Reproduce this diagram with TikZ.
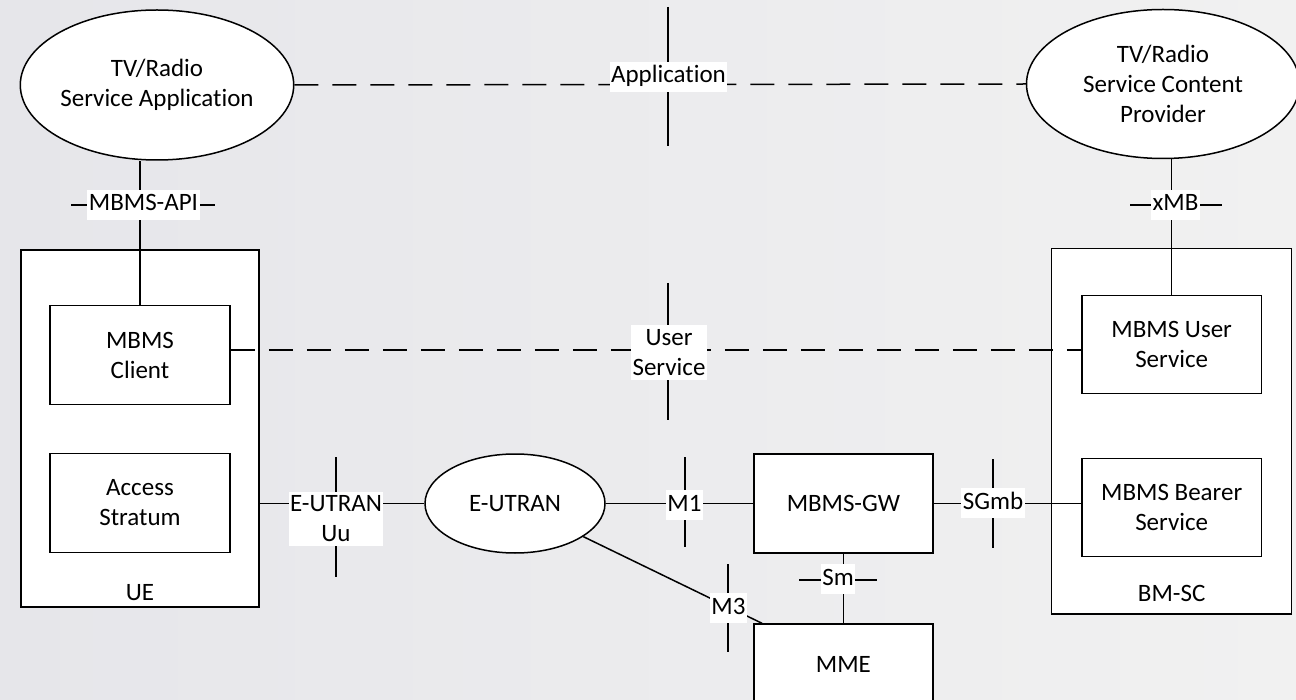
\documentclass[tikz,border=0pt]{standalone}
\usepackage{fontspec}
\setmainfont{Carlito}[Ligatures=NoCommon]
\usetikzlibrary{shapes.geometric,calc}
\definecolor{bgl}{RGB}{230,230,234}
\definecolor{bgr}{RGB}{241,241,241}
\tikzset{
  every node/.style={font=\fontsize{25}{30}\selectfont, align=center, inner sep=0pt},
  ell/.style={ellipse, draw, fill=white, line width=1.5pt},
  rbox/.style={rectangle, draw, fill=white, line width=1.5pt},
  conn/.style={line width=1.5pt},
  dconn/.style={line width=1.5pt, dash pattern=on 24pt off 14pt},
  lab/.style={fill=white, inner xsep=1.5pt, inner ysep=3pt, text height=18pt, text depth=6pt},
  lab2/.style={fill=white, inner xsep=1.5pt, inner ysep=4pt},
  tick/.style={line width=1.5pt}
}
\begin{document}
\begin{tikzpicture}[x=1pt,y=-1pt]
\clip (0,0) rectangle (1296,700);
\useasboundingbox (0,0) rectangle (1296,700);
\fill[left color=bgl,right color=bgr] (0,0) rectangle (1296,700);

% outer boxes
\node[rbox, minimum width=238pt, minimum height=357pt] (ue) at (140,428.5) {};
\node at (140,593) (uelab) {UE};
\node[rbox, minimum width=240pt, minimum height=365.7pt] (bmsc) at (1171.7,431.2) {};
\node at (1171.7,593) (bmsclab) {BM-SC};

% ellipses
\node[ell, minimum width=272pt, minimum height=150pt] (app) at (157,85) {TV/Radio\\Service Application};
\node[ell, minimum width=273pt, minimum height=149pt] (cp) at (1163,84) {TV/Radio\\Service Content\\Provider};
\node[ell, minimum width=180pt, minimum height=99pt] (eutran) at (515,503.5) {E-UTRAN};

% inner boxes
\node[rbox, minimum width=180pt, minimum height=98.6pt] (client) at (140,355) {MBMS\\Client};
\node[rbox, minimum width=180pt, minimum height=98.6pt] (access) at (140,503) {Access\\Stratum};
\node[rbox, minimum width=179.3pt, minimum height=98.6pt] (gw) at (843.4,503.5) {MBMS-GW};
\node[rbox, minimum width=179.3pt, minimum height=98.4pt] (usbox) at (1171.7,344.5) {MBMS User\\Service};
\node[rbox, minimum width=179.3pt, minimum height=98.4pt] (bearer) at (1171.7,507.5) {MBMS Bearer\\Service};
\node[rbox, minimum width=179.3pt, minimum height=84pt, anchor=north] (mme) at (843.4,623.3) {};
\node at (843.4,664) (mmelab) {MME};

% reference coordinates
\coordinate (usy) at (668,350);
\coordinate (m3end) at ($(mme.north west)+(9,0)$);

% connectors
\draw[dconn] (app.east) -- (cp.west);
\draw[dconn] (client.east |- usy) -- (usbox.west |- usy);
\draw[conn] (client.north) -- (client.north |- app.south);
\draw[conn] (usbox.north) -- (usbox.north |- cp.south);
\draw[conn] (ue.east |- eutran.west) -- (eutran.west);
\draw[conn] (eutran.east) -- (eutran.east -| gw.west);
\draw[conn] (gw.east) -- (gw.east -| bearer.west);
\draw[conn] (gw.south) -- (mme.north);
\draw[conn] (eutran) -- (m3end);

% crossing marks
\draw[tick] (668,7) -- (668,146);
\draw[tick] (668,283) -- (668,420);
\draw[tick] (71,205) -- (215,205);
\draw[tick] (1130,205) -- (1222,205);
\draw[tick] (336,457) -- (336,577);
\draw[tick] (685,457) -- (685,547);
\draw[tick] (993,459) -- (993,548);
\draw[tick] (799,580) -- (877,580);
\draw[tick] (728,564) -- (728,652);

% interface labels
\node[lab] (lapp) at (668.5,77) {Application};
\node[lab2] (lus) at (669,352.5) {User\\Service};
\node[lab] (lapi) at (143.5,205) {MBMS-API};
\node[lab] (lxmb) at (1175.5,205) {xMB};
\node[lab2] (luu) at (336,519) {E-UTRAN\\Uu};
\node[lab] (lm1) at (684.5,505) {M1};
\node[lab] (lsg) at (993,503) {SGmb};
\node[lab] (lsm) at (838,579) {Sm};
\node[lab] (lm3) at (728.5,608) {M3};
\end{tikzpicture}
\end{document}
